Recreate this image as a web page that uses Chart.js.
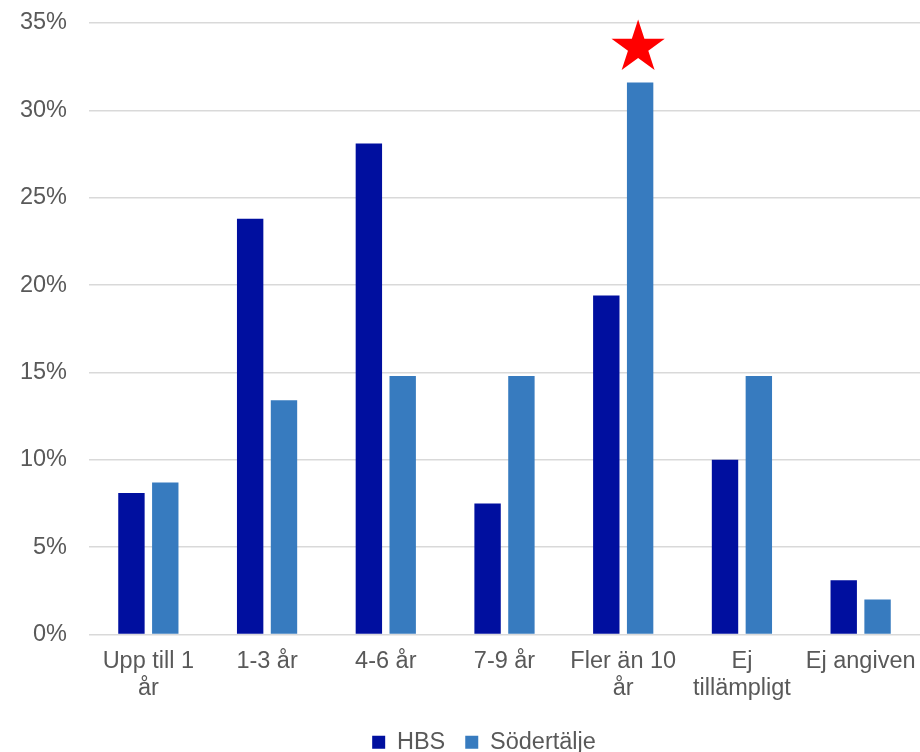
<!DOCTYPE html>
<html>
<head>
<meta charset="utf-8">
<script src="https://cdn.jsdelivr.net/npm/chart.js@4/dist/chart.umd.min.js"></script>
<style>
  html, body { margin: 0; padding: 0; background: #fff; }
  #wrap { position: relative; width: 920px; height: 752px; }
</style>
</head>
<body>
<div id="wrap"><canvas id="chart"></canvas></div>
<script>
'use strict';

// Chart values (percent)
const categories = [
    ['Upp till 1', 'år'],
    '1-3 år',
    '4-6 år',
    '7-9 år',
    ['Fler än 10', 'år'],
    ['Ej', 'tillämpligt'],
    'Ej angiven',
];
const hbsValues = [8.1, 23.8, 28.1, 7.5, 19.4, 10.0, 3.1];
const sodertaljeValues = [8.7, 13.4, 14.8, 14.8, 31.6, 14.8, 2.0];
const seriesNames = ['HBS', 'Södertälje'];
const yTicks = [0, 5, 10, 15, 20, 25, 30, 35];
const starCategory = 4; // red star above Södertälje, "Fler än 10 år"

const FONT = { family: '"Liberation Sans", Arial, sans-serif', size: 23.5, lineHeight: 1.15 };
const TEXT = '#595959';

// draws a filled five-point star above the marked bar
const starPlugin = {
    id: 'star',
    afterDatasetsDraw(chart) {
        const bar = chart.getDatasetMeta(1).data[starCategory];
        if (!bar) return;
        const ctx = chart.ctx;
        const R = 28, r = R * 0.382;
        const cx = bar.x - 2, cy = bar.y - 35;
        ctx.save();
        ctx.beginPath();
        for (let i = 0; i < 10; i++) {
            const rad = i % 2 === 0 ? R : r;
            const a = -Math.PI / 2 + i * Math.PI / 5;
            const px = cx + rad * Math.cos(a);
            const py = cy + rad * Math.sin(a);
            if (i === 0) ctx.moveTo(px, py); else ctx.lineTo(px, py);
        }
        ctx.closePath();
        ctx.fillStyle = '#FF0000';
        ctx.fill();
        ctx.restore();
    },
};

// nudges the bottom legend a bit right, like the original
const legendShift = {
    id: 'legendShift',
    afterLayout(chart) {
        if (!chart.legend) return;
        chart.legend.left += 24;
        chart.legend.right += 24;
    },
};

new Chart(document.getElementById('chart'), {
    type: 'bar',
    data: {
        labels: categories,
        datasets: [
            {
                label: seriesNames[0],
                data: hbsValues,
                backgroundColor: '#000F9F',
                barPercentage: 0.78,
                categoryPercentage: 0.57,
            },
            {
                label: seriesNames[1],
                data: sodertaljeValues,
                backgroundColor: '#377BBF',
                barPercentage: 0.78,
                categoryPercentage: 0.57,
            },
        ],
    },
    options: {
        responsive: true,
        maintainAspectRatio: false,
        animation: false,
        layout: { padding: { top: 23, right: 0, bottom: -12, left: 0 } },
        plugins: {
            tooltip: { enabled: false },
            legend: {
                position: 'bottom',
                labels: {
                    font: FONT,
                    color: TEXT,
                    boxWidth: 13,
                    boxHeight: 13,
                    padding: 20,
                },
            },
        },
        scales: {
            x: {
                afterFit(scale) {
                    scale.paddingRight = 0;
                    scale.height += 2;
                },
                grid: { display: false },
                border: { display: false },
                ticks: {
                    font: FONT,
                    color: TEXT,
                    padding: 6,
                    maxRotation: 0,
                    autoSkip: false,
                },
            },
            y: {
                min: 0,
                max: yTicks[yTicks.length - 1],
                afterFit(scale) {
                    scale.width = 89;
                    scale.paddingTop = 0;
                    scale.paddingBottom = 0;
                },
                afterBuildTicks(scale) {
                    scale.ticks = yTicks.map(v => ({ value: v }));
                },
                grid: { color: '#D9D9D9', lineWidth: 1.5, drawTicks: false },
                border: { display: false },
                ticks: {
                    font: FONT,
                    color: TEXT,
                    padding: 22,
                    callback: v => v + '%',
                },
            },
        },
    },
    plugins: [starPlugin, legendShift],
});
</script>
</body>
</html>
